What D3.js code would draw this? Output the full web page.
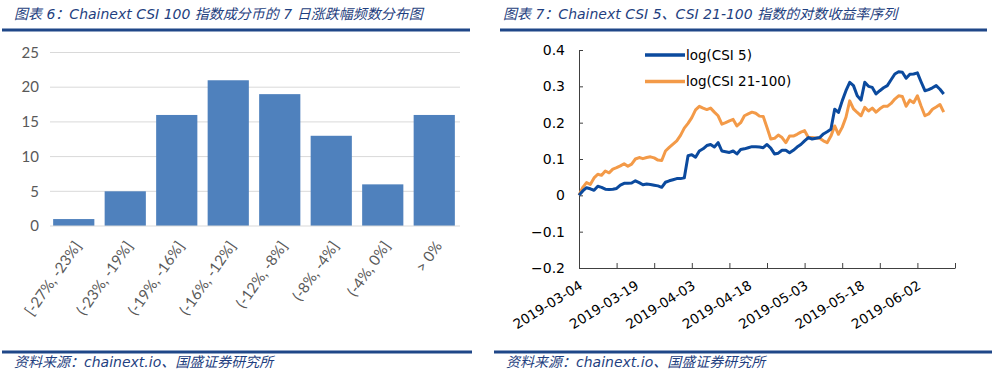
<!DOCTYPE html>
<html>
<head>
<meta charset="utf-8">
<script src="https://cdn.jsdelivr.net/npm/d3@7"></script>
<style>
  body { margin: 0; background: #fff; }
  svg { display: block; }
  .ttl { font-family: "DejaVu Sans", "Noto Sans CJK SC", sans-serif; font-style: italic; fill: #1f3f80; }
</style>
</head>
<body>
<svg id="chart" width="999" height="375"></svg>
<script>
// ---- data: chart 6 (frequency of 7-day change) ----
var binLabels = ["[-27%, -23%]", "(-23%, -19%]", "(-19%, -16%]", "(-16%, -12%]", "(-12%, -8%]", "(-8%, -4%]", "(-4%, 0%]", "> 0%"];
var binCounts = [1, 5, 16, 21, 19, 13, 6, 16];
var barTicks = [0, 5, 10, 15, 20, 25];

// ---- data: chart 7 (log return series, daily from 2019-03-04) ----
var startDate = "2019-03-04";
var csi5 = [
  0.000, 0.012, 0.021, 0.018, 0.014, 0.025, 0.022, 0.017, 0.016, 0.017,
  0.019, 0.028, 0.033, 0.033, 0.034, 0.040, 0.035, 0.029, 0.031, 0.030,
  0.028, 0.026, 0.022, 0.036, 0.040, 0.043, 0.046, 0.046, 0.048, 0.109,
  0.112, 0.105, 0.122, 0.128, 0.137, 0.140, 0.133, 0.145, 0.122, 0.120,
  0.118, 0.122, 0.114, 0.126, 0.128, 0.131, 0.134, 0.134, 0.133, 0.131,
  0.140, 0.130, 0.114, 0.116, 0.124, 0.124, 0.117, 0.124, 0.133, 0.140,
  0.150, 0.159, 0.155, 0.157, 0.159, 0.169, 0.175, 0.182, 0.237, 0.228,
  0.260, 0.288, 0.311, 0.302, 0.274, 0.262, 0.311, 0.300, 0.297, 0.279,
  0.288, 0.296, 0.302, 0.318, 0.334, 0.340, 0.339, 0.322, 0.333, 0.334,
  0.337, 0.312, 0.288, 0.291, 0.296, 0.302, 0.292, 0.279
];
var csi21100 = [
  0.000, 0.022, 0.035, 0.030, 0.048, 0.058, 0.055, 0.067, 0.062, 0.072,
  0.076, 0.081, 0.087, 0.080, 0.086, 0.100, 0.104, 0.101, 0.104, 0.106,
  0.103, 0.097, 0.096, 0.122, 0.132, 0.141, 0.150, 0.165, 0.185, 0.198,
  0.214, 0.235, 0.245, 0.240, 0.236, 0.240, 0.229, 0.219, 0.196, 0.200,
  0.205, 0.209, 0.191, 0.200, 0.219, 0.224, 0.229, 0.226, 0.218, 0.217,
  0.187, 0.155, 0.157, 0.166, 0.159, 0.145, 0.163, 0.163, 0.168, 0.174,
  0.178, 0.159, 0.159, 0.158, 0.157, 0.150, 0.145, 0.163, 0.191, 0.168,
  0.187, 0.215, 0.260, 0.238, 0.228, 0.219, 0.242, 0.232, 0.240, 0.229,
  0.238, 0.245, 0.245, 0.253, 0.265, 0.274, 0.272, 0.245, 0.262, 0.255,
  0.274, 0.245, 0.219, 0.224, 0.237, 0.243, 0.250, 0.229
];
var seriesNames = ["log(CSI 5)", "log(CSI 21-100)"];
var seriesColors = ["#0b4a9e", "#f39a48"];
var lineTicks = [-0.2, -0.1, 0, 0.1, 0.2, 0.3, 0.4];
var dateLabels = ["2019-03-04", "2019-03-19", "2019-04-03", "2019-04-18", "2019-05-03", "2019-05-18", "2019-06-02"];

var svg = d3.select("#chart");
var parseDate = d3.timeParse("%Y-%m-%d");

// ---- frames: titles, rules, sources ----
var titles = [
  {x: 14, text: "图表 6：Chainext CSI 100 指数成分币的 7 日涨跌幅频数分布图", l: 2, r: 470},
  {x: 503, text: "图表 7：Chainext CSI 5、CSI 21-100 指数的对数收益率序列", l: 500, r: 987}
];
titles.forEach(function(t){
  svg.append("text").attr("class", "ttl").attr("x", t.x).attr("y", 19)
    .style("font-size", "14px").text(t.text);
  svg.append("line").attr("x1", t.l).attr("x2", t.r).attr("y1", 30).attr("y2", 30)
    .attr("stroke", "#1f4788").attr("stroke-width", 3);
  svg.append("line").attr("x1", t.l - (t.l < 100 ? 0 : 6)).attr("x2", t.r + (t.l < 100 ? 2 : 5)).attr("y1", 352).attr("y2", 352)
    .attr("stroke", "#1f4788").attr("stroke-width", 3);
  svg.append("text").attr("class", "ttl").attr("x", t.l + (t.l < 100 ? 12 : 6)).attr("y", 367)
    .style("font-size", "14px").text("资料来源：chainext.io、国盛证券研究所");
});

// ---- chart 6: bars ----
var x = d3.scaleBand().domain(binLabels).range([48, 460]).paddingInner(0.2).paddingOuter(0.1);
var y = d3.scaleLinear().domain([0, 25]).range([226, 52.5]);

var left = svg.append("g");
left.selectAll("line.grid").data(barTicks.slice(1)).enter().append("line")
  .attr("x1", 50).attr("x2", 460)
  .attr("y1", function(d){ return y(d); }).attr("y2", function(d){ return y(d); })
  .attr("stroke", "#d9d9d9").attr("stroke-width", 1);

left.selectAll("rect").data(binCounts).enter().append("rect")
  .attr("x", function(d, i){ return x(binLabels[i]); })
  .attr("y", function(d){ return y(d); })
  .attr("width", x.bandwidth())
  .attr("height", function(d){ return y(0) - y(d); })
  .attr("fill", "#4f81bd");

left.append("line").attr("x1", 50).attr("x2", 460).attr("y1", y(0)).attr("y2", y(0))
  .attr("stroke", "#d9d9d9").attr("stroke-width", 1);

left.selectAll("text.yl").data(barTicks).enter().append("text")
  .attr("x", 39).attr("y", function(d){ return y(d); }).attr("dy", "0.35em")
  .attr("text-anchor", "end")
  .style("font-family", "Lato, 'Open Sans', sans-serif").style("font-size", "15px").style("fill", "#595959")
  .text(function(d){ return d; });

left.selectAll("text.xl").data(binLabels).enter().append("text")
  .attr("transform", function(d){
    return "translate(" + (x(d) + x.bandwidth() / 2 + 4) + "," + 243 + ") rotate(-55)";
  })
  .attr("text-anchor", "end").attr("dy", "0.35em")
  .style("font-family", "Lato, 'Open Sans', sans-serif").style("font-size", "15px").style("fill", "#595959")
  .text(function(d){ return d; });

// ---- chart 7: lines ----
var t0 = parseDate(startDate);
var xt = d3.scaleTime().domain([t0, d3.timeDay.offset(t0, 100)]).range([579, 955]);
var yl = d3.scaleLinear().domain([-0.2, 0.4]).range([268, 50]);

var right = svg.append("g").style("font-family", "'DejaVu Sans', sans-serif");

var xAxis = d3.axisBottom(xt)
  .tickValues(d3.range(0, 101, 10).map(function(k){ return d3.timeDay.offset(t0, k); }))
  .tickSizeInner(-5).tickSizeOuter(0).tickFormat("");
var gx = right.append("g").attr("transform", "translate(0," + yl(-0.2) + ")").call(xAxis);
gx.select(".domain").attr("stroke", "#404040");
gx.selectAll(".tick line").attr("stroke", "#404040");

right.selectAll("text.dl").data(dateLabels).enter().append("text")
  .attr("transform", function(d){
    return "translate(" + (xt(parseDate(d)) + 2) + "," + 284 + ") rotate(-32)";
  })
  .attr("text-anchor", "end").attr("dy", "0.35em")
  .style("font-size", "13.5px").style("fill", "#000")
  .text(function(d){ return d; });

var yAxis = d3.axisLeft(yl).tickValues(lineTicks).tickSizeInner(-4).tickSizeOuter(0)
  .tickFormat(function(d){ return d === 0 ? "0" : d3.format(".1f")(d); });
var gy = right.append("g").attr("transform", "translate(579,0)").call(yAxis);
gy.select(".domain").attr("stroke", "#404040");
gy.selectAll(".tick line").attr("stroke", "#404040");
gy.selectAll(".tick text").attr("x", -14).style("font-size", "14px").style("fill", "#000")
  .style("font-family", "'DejaVu Sans', sans-serif");

var line = d3.line()
  .x(function(d, i){ return xt(d3.timeDay.offset(t0, i)); })
  .y(function(d){ return yl(d); });

[csi21100, csi5].forEach(function(s, k){
  right.append("path").datum(s)
    .attr("d", line).attr("fill", "none")
    .attr("stroke", seriesColors[1 - k]).attr("stroke-width", 3)
    .attr("stroke-linejoin", "round");
});

// legend
seriesNames.forEach(function(n, i){
  var ly = 55 + i * 26.5;
  right.append("line").attr("x1", 645).attr("x2", 685).attr("y1", ly).attr("y2", ly)
    .attr("stroke", seriesColors[i]).attr("stroke-width", 3.5);
  right.append("text").attr("x", 686).attr("y", ly).attr("dy", "0.35em")
    .style("font-size", "13.5px").style("fill", "#000").text(n);
});
</script>
</body>
</html>
